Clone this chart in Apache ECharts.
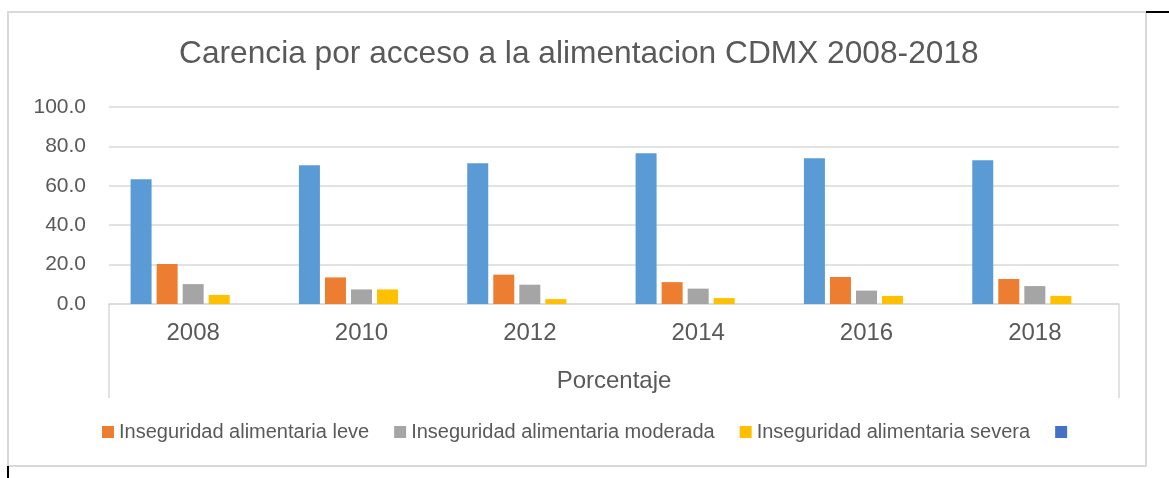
<!DOCTYPE html>
<html>
<head>
<meta charset="utf-8">
<script src="https://cdn.jsdelivr.net/npm/echarts@6/dist/echarts.min.js"></script>
<style>
  html, body { margin: 0; padding: 0; background: #ffffff; }
  #chart { width: 1169px; height: 478px; }
</style>
</head>
<body>
<div id="chart"></div>
<script>
const titleText = 'Carencia por acceso a la alimentacion CDMX 2008-2018';
const categories = ['2008', '2010', '2012', '2014', '2016', '2018'];
const seguridad = [63.3, 70.4, 71.5, 76.5, 74.0, 73.0];
const leve = [20.3, 13.5, 14.9, 11.1, 13.7, 12.7];
const moderada = [10.1, 7.4, 9.8, 7.8, 6.8, 9.1];
const severa = [4.6, 7.4, 2.5, 3.0, 4.1, 4.1];
const vacia = [null, null, null, null, null, null];
const seriesNames = ['Seguridad alimentaria', 'Inseguridad alimentaria leve', 'Inseguridad alimentaria moderada', 'Inseguridad alimentaria severa', ' '];
const legendNames = seriesNames.slice(1);
const axisName = 'Porcentaje';
const yTicks = { min: 0, max: 100, interval: 20 };

const W = 1169, H = 478;
const G = { left: 109, right: 50, top: 107, bottom: 174 };
const colors = ['#5B9BD5', '#ED7D31', '#A5A5A5', '#FFC000', '#4472C4'];
const textColor = '#595959';
const gridColor = '#d9d9d9';
const FONT = '"Liberation Sans", Arial, sans-serif';

const chart = echarts.init(document.getElementById('chart'), null, { renderer: 'canvas' });
const dataSets = [seguridad, leve, moderada, severa, vacia];
const axisBottom = H - G.bottom;

chart.setOption({
  animation: false,
  backgroundColor: '#ffffff',
  textStyle: { fontFamily: FONT },
  title: {
    text: titleText,
    left: 174,
    top: 33,
    textStyle: { fontSize: 31.7, fontWeight: 'normal', color: textColor, fontFamily: FONT }
  },
  legend: {
    data: legendNames,
    left: 97,
    top: 417,
    icon: 'rect',
    itemWidth: 12,
    itemHeight: 12,
    itemGap: 25,
    textStyle: { fontSize: 20, color: textColor, fontFamily: FONT }
  },
  grid: { left: G.left, right: G.right, top: G.top, bottom: G.bottom, containLabel: false },
  xAxis: {
    type: 'category',
    data: categories,
    name: axisName,
    nameLocation: 'middle',
    nameGap: 65,
    nameTextStyle: { fontSize: 24, color: textColor },
    axisLine: { show: true, lineStyle: { color: gridColor, width: 1.5 } },
    axisTick: { show: false },
    axisLabel: { fontSize: 24, color: textColor, margin: 17 }
  },
  yAxis: {
    type: 'value',
    min: yTicks.min,
    max: yTicks.max,
    interval: yTicks.interval,
    axisLine: { show: false },
    axisTick: { show: false },
    axisLabel: { fontSize: 21, color: textColor, margin: 23, formatter: v => v.toFixed(1) },
    splitLine: { show: true, lineStyle: { color: gridColor, width: 1.5 } }
  },
  series: seriesNames.map((n, i) => ({
    name: n,
    type: 'bar',
    data: dataSets[i],
    barWidth: 21,
    barGap: '24%',
    itemStyle: { color: colors[i] }
  })),
  graphic: [
    { type: 'rect', shape: { x: 8, y: 12, width: 1138, height: 454 }, style: { fill: 'none', stroke: gridColor, lineWidth: 2 }, z: -1 },
    { type: 'line', shape: { x1: G.left, y1: axisBottom, x2: G.left, y2: axisBottom + 94 }, style: { stroke: gridColor, lineWidth: 1.5 } },
    { type: 'line', shape: { x1: W - G.right, y1: axisBottom, x2: W - G.right, y2: axisBottom + 94 }, style: { stroke: gridColor, lineWidth: 1.5 } },
    { type: 'line', shape: { x1: 1146, y1: 12, x2: 1169, y2: 12 }, style: { stroke: '#000000', lineWidth: 2 } },
    { type: 'line', shape: { x1: 8, y1: 466, x2: 8, y2: 478 }, style: { stroke: '#000000', lineWidth: 2 } }
  ]
});
</script>
</body>
</html>
